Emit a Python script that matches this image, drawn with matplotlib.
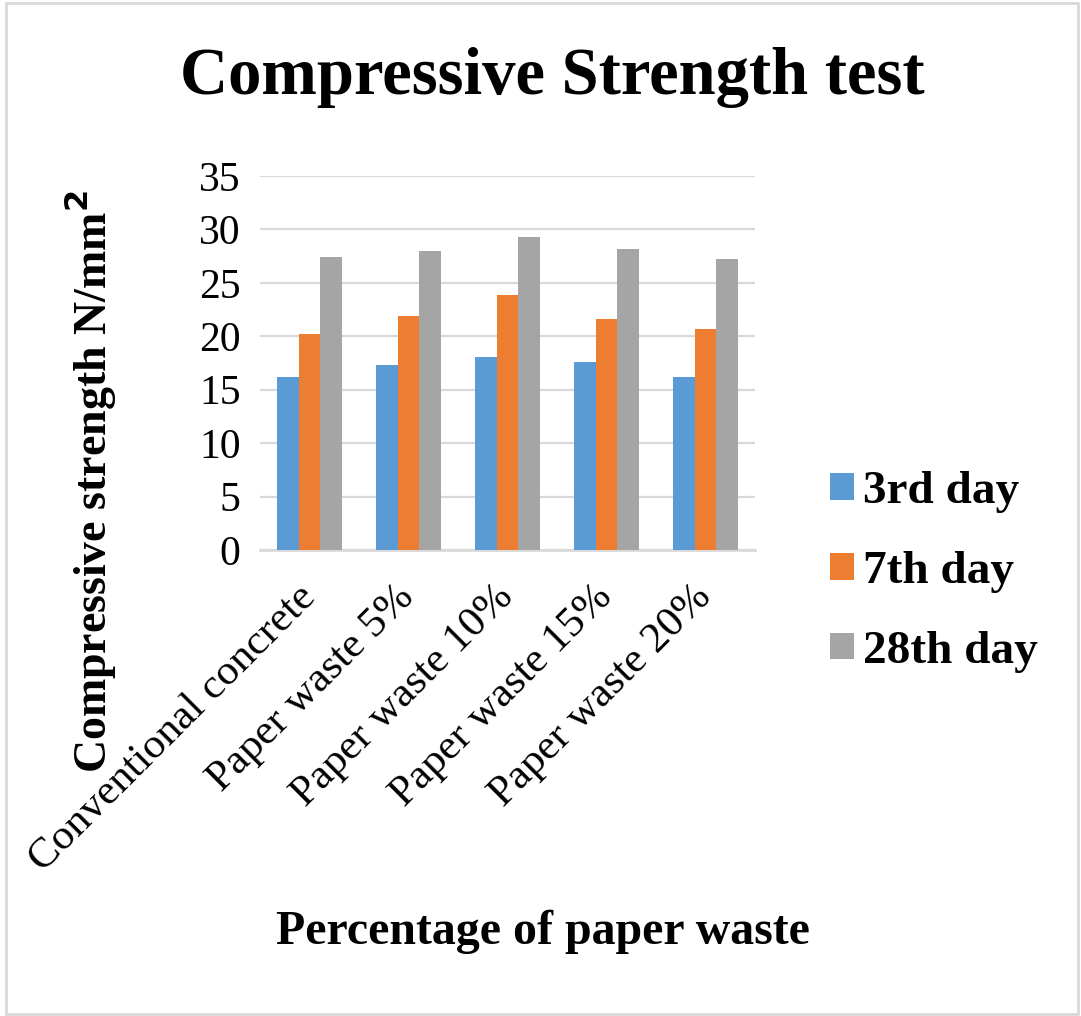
#!/usr/bin/env python3
import numpy as np
import matplotlib.pyplot as plt
from matplotlib.patches import Rectangle

categories = ['Conventional concrete', 'Paper waste 5%', 'Paper waste 10%',
              'Paper waste 15%', 'Paper waste 20%']
day3 = [16.2, 17.3, 18.1, 17.6, 16.2]
day7 = [20.2, 21.9, 23.9, 21.6, 20.7]
day28 = [27.4, 28.0, 29.3, 28.2, 27.2]
series = ['3rd day', '7th day', '28th day']
colors = ['#5b9bd5', '#ed7d31', '#a5a5a5']
yticks = [0, 5, 10, 15, 20, 25, 30, 35]

plt.rcParams['font.family'] = ['Liberation Serif', 'DejaVu Serif']

fig = plt.figure(figsize=(10.81, 10.16), dpi=100)
ax = fig.add_axes([260/1081, 1-550/1016, 495/1081, 374/1016])

x = np.arange(len(categories))
w = 0.22
for i, (vals, lab) in enumerate(zip([day3, day7, day28], series)):
    ax.bar(x + (i-1)*w, vals, w, color=colors[i], label=lab, zorder=3)

ax.set_xlim(-0.5, len(categories)-0.5)
ax.set_ylim(0, 35)
ax.set_yticks(yticks)
ax.set_yticklabels([str(v) for v in yticks], fontsize=30)
ax.yaxis.grid(True, color='#d9d9d9', linewidth=1.6, zorder=0)
ax.set_xticks(x)
ax.set_xticklabels(categories, fontsize=31, rotation=45, ha='right',
                   va='center', rotation_mode='anchor')
for s in ['top', 'right', 'left']:
    ax.spines[s].set_visible(False)
ax.spines['bottom'].set_color('#d9d9d9')
ax.spines['bottom'].set_linewidth(2)
ax.tick_params(axis='both', length=0)
ax.tick_params(axis='y', pad=14)
ax.tick_params(axis='x', pad=30)

fig.text(552/1081, 1-78/1016, 'Compressive Strength test', fontsize=48,
         fontweight='bold', ha='center', va='center')
fig.text(90/1081, 1-482/1016, 'Compressive strength N/mm$^\\mathbf{2}$', fontsize=33,
         fontweight='bold', rotation=90, ha='center', va='center')
fig.text(543/1081, 1-932/1016, 'Percentage of paper waste', fontsize=34.5,
         fontweight='bold', ha='center', va='center')

leg = ax.legend(loc='center left', bbox_to_anchor=(830/1081, 1-572/1016),
                bbox_transform=fig.transFigure, frameon=False,
                prop={'size': 34, 'weight': 'bold'}, handlelength=0.5,
                handleheight=0.5, handletextpad=0.2, labelspacing=0.8,
                borderpad=0, borderaxespad=0)

fig.patches.append(Rectangle((6/1081, 2/1016), 1072/1081, 1011/1016,
                             transform=fig.transFigure, fill=False,
                             edgecolor='#d9d9d9', linewidth=2))

fig.savefig('out.png', dpi=100)
